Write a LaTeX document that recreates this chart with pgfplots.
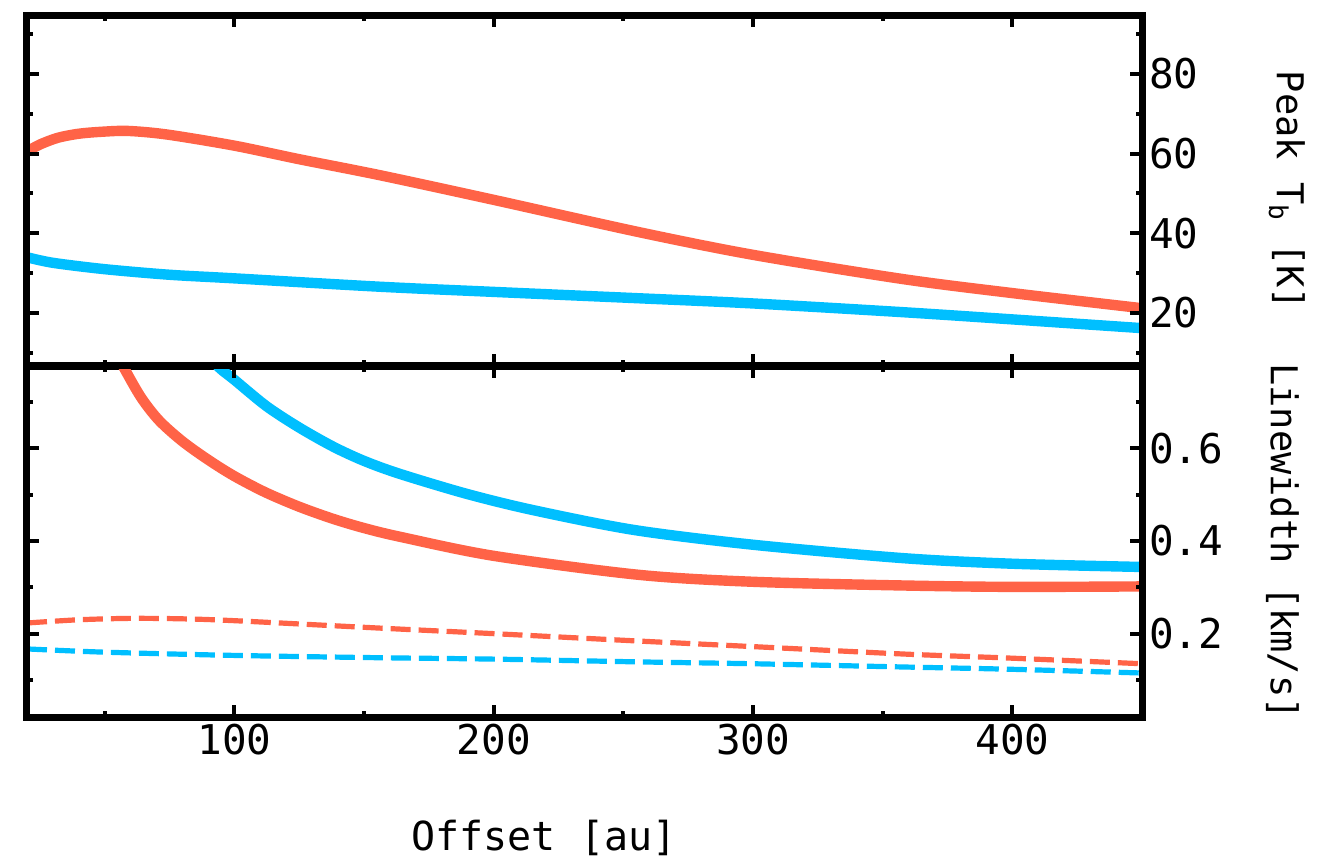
\documentclass[border=0pt]{standalone}
\usepackage{fontspec}
\setmainfont{DejaVu Sans Mono}
\usepackage{pgfplots}
\pgfplotsset{compat=1.18}
\definecolor{tomatoc}{RGB}{255,99,71}
\definecolor{dsb}{RGB}{0,191,255}
\begin{document}
\begin{tikzpicture}
\path[use as bounding box] (0pt,0pt) rectangle (659pt,432pt);
\pgfplotsset{
  panel/.style={
    scale only axis, width=557.5pt, height=175.5pt,
    xmin=20, xmax=450,
    axis line style={line width=3.5pt, line cap=rect},
    every tick/.style={black, line width=2pt},
    major tick length=6pt, minor tick length=3pt,
    tick align=inside,
    xtick={100,200,300,400}, minor xtick={50,150,250,350},
    yticklabel pos=right,
    axis on top,
    /pgf/number format/assume math mode=true,
    tick label style={font=\fontsize{20.5}{24}\selectfont},
    ylabel style={font=\fontsize{18.5}{22}\selectfont},
    xlabel style={font=\fontsize{20}{24}\selectfont},
  },
  solidc/.style={line width=5.2pt, no marks, smooth, tension=0.5},
  dashc/.style={line width=2.6pt, no marks, smooth, tension=0.5, dash pattern=on 10pt off 4pt},
}
\begin{axis}[panel, at={(13.5pt,249pt)}, anchor=south west,
  ymin=6.7, ymax=94.8,
  ytick={20,40,60,80}, minor ytick={10,30,50,70,90},
  xticklabels={},
  ylabel={Peak T\textsubscript{b} [K]},
  ylabel style={at={(axis description cs:1.13,0.5)}, anchor=center, rotate=180},
]
\addplot[solidc, tomatoc] coordinates {
(20,60.5) (25,62.3) (32,64.0) (40,65.0) (49,65.5) (59,65.7) (74,64.8)
(100,62.0) (125,58.6) (156,54.6) (200,48.4) (256,40.3) (300,34.6)
(358,28.5) (400,25.0) (450,21.2)};
\addplot[solidc, dsb] coordinates {
(20,34.0) (30,32.6) (50,31.0) (75,29.6) (100,28.7) (156,26.6) (200,25.3)
(256,23.7) (300,22.4) (358,20.2) (400,18.4) (450,16.2)};
\end{axis}
\begin{axis}[panel, at={(13.5pt,73.5pt)}, anchor=south west,
  ymin=0.02, ymax=0.778,
  ytick={0.2,0.4,0.6}, minor ytick={0.1,0.3,0.5,0.7},
  yticklabel style={/pgf/number format/.cd, fixed, fixed zerofill, precision=1},
  ylabel={Linewidth [km/s]},
  ylabel style={at={(axis description cs:1.126,0.5)}, anchor=center, rotate=180},
  xlabel={Offset [au]},
  xlabel style={at={(axis description cs:0.4637,-0.345)}, anchor=center},
]
\addplot[solidc, tomatoc] coordinates {
(50,0.85) (57,0.778) (64,0.71) (71,0.66) (80,0.615) (90,0.575) (100,0.54)
(112,0.505) (125,0.474) (138,0.448) (150,0.428) (164,0.409) (200,0.368)
(256,0.327) (300,0.312) (358,0.304) (400,0.301) (450,0.302)};
\addplot[solidc, dsb] coordinates {
(90,0.80) (94.4,0.773) (100,0.748) (112.4,0.691) (125,0.645) (138,0.604)
(150,0.573) (163.8,0.545) (189.5,0.502) (215,0.467) (254,0.424)
(300,0.392) (358,0.363) (400,0.351) (450,0.344)};
\addplot[dashc, tomatoc] coordinates {
(20,0.223) (40,0.23) (60,0.233) (80,0.232) (100,0.228) (156,0.212)
(200,0.2) (256,0.184) (300,0.172) (358,0.156) (400,0.147) (450,0.135)};
\addplot[dashc, dsb] coordinates {
(20,0.167) (50,0.16) (100,0.153) (156,0.148) (200,0.145) (256,0.139)
(300,0.135) (358,0.128) (400,0.123) (450,0.115)};
\end{axis}
\end{tikzpicture}
\end{document}
